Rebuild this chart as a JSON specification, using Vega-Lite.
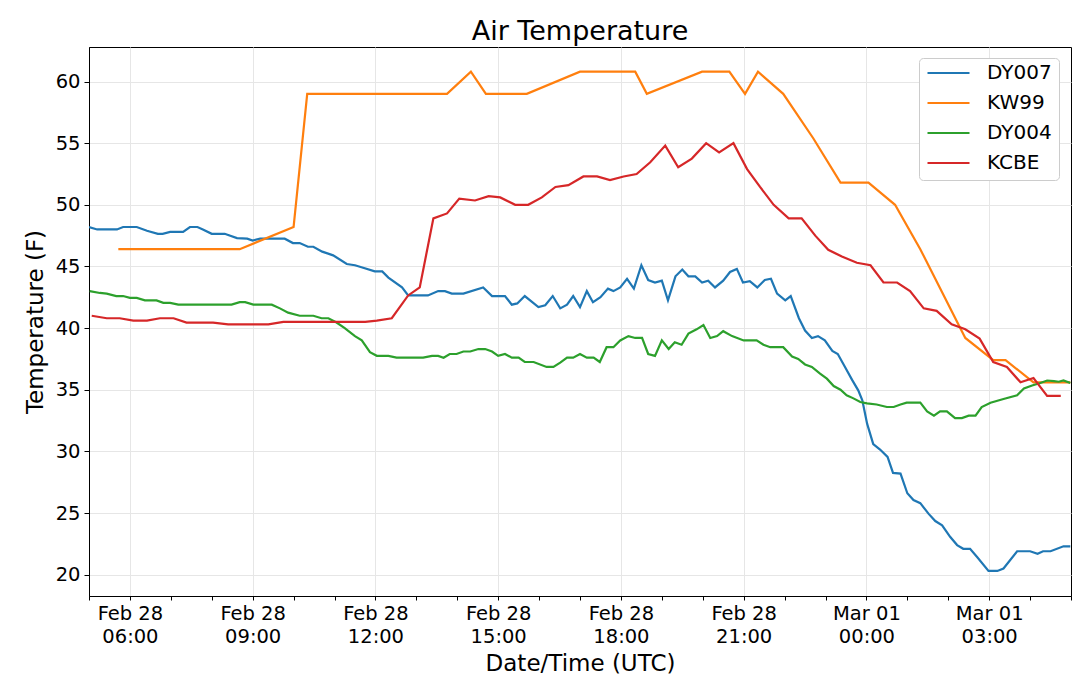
{
  "$schema": "https://vega.github.io/schema/vega-lite/v6.json",
  "width": 982,
  "height": 549,
  "autosize": {"type": "none"},
  "padding": {"left": 89, "top": 47, "right": 9, "bottom": 93},
  "background": "white",
  "title": {
    "text": "Air Temperature",
    "fontSize": 27,
    "fontWeight": "normal",
    "color": "black",
    "anchor": "middle",
    "offset": 1
  },
  "data": {
    "values": [
      {"station": "DY007", "time": "2018-02-28T05:00:00Z", "temp": 48.2},
      {"station": "DY007", "time": "2018-02-28T05:12:00Z", "temp": 48.0},
      {"station": "DY007", "time": "2018-02-28T05:41:00Z", "temp": 48.0},
      {"station": "DY007", "time": "2018-02-28T05:50:00Z", "temp": 48.2},
      {"station": "DY007", "time": "2018-02-28T06:10:00Z", "temp": 48.2},
      {"station": "DY007", "time": "2018-02-28T06:25:00Z", "temp": 47.9},
      {"station": "DY007", "time": "2018-02-28T06:41:00Z", "temp": 47.65},
      {"station": "DY007", "time": "2018-02-28T06:48:00Z", "temp": 47.65},
      {"station": "DY007", "time": "2018-02-28T06:59:00Z", "temp": 47.8},
      {"station": "DY007", "time": "2018-02-28T07:18:00Z", "temp": 47.8},
      {"station": "DY007", "time": "2018-02-28T07:28:00Z", "temp": 48.2},
      {"station": "DY007", "time": "2018-02-28T07:39:00Z", "temp": 48.2},
      {"station": "DY007", "time": "2018-02-28T07:47:00Z", "temp": 48.0},
      {"station": "DY007", "time": "2018-02-28T08:00:00Z", "temp": 47.65},
      {"station": "DY007", "time": "2018-02-28T08:19:00Z", "temp": 47.65},
      {"station": "DY007", "time": "2018-02-28T08:37:00Z", "temp": 47.3},
      {"station": "DY007", "time": "2018-02-28T08:52:00Z", "temp": 47.25},
      {"station": "DY007", "time": "2018-02-28T09:00:00Z", "temp": 47.1},
      {"station": "DY007", "time": "2018-02-28T09:11:00Z", "temp": 47.25},
      {"station": "DY007", "time": "2018-02-28T09:47:00Z", "temp": 47.25},
      {"station": "DY007", "time": "2018-02-28T09:59:00Z", "temp": 46.9},
      {"station": "DY007", "time": "2018-02-28T10:09:00Z", "temp": 46.9},
      {"station": "DY007", "time": "2018-02-28T10:21:00Z", "temp": 46.6},
      {"station": "DY007", "time": "2018-02-28T10:29:00Z", "temp": 46.6},
      {"station": "DY007", "time": "2018-02-28T10:42:00Z", "temp": 46.2},
      {"station": "DY007", "time": "2018-02-28T10:58:00Z", "temp": 45.9},
      {"station": "DY007", "time": "2018-02-28T11:18:00Z", "temp": 45.2},
      {"station": "DY007", "time": "2018-02-28T11:30:00Z", "temp": 45.1},
      {"station": "DY007", "time": "2018-02-28T11:42:00Z", "temp": 44.9},
      {"station": "DY007", "time": "2018-02-28T11:59:00Z", "temp": 44.6},
      {"station": "DY007", "time": "2018-02-28T12:10:00Z", "temp": 44.6},
      {"station": "DY007", "time": "2018-02-28T12:19:00Z", "temp": 44.1},
      {"station": "DY007", "time": "2018-02-28T12:39:00Z", "temp": 43.3},
      {"station": "DY007", "time": "2018-02-28T12:48:00Z", "temp": 42.65},
      {"station": "DY007", "time": "2018-02-28T13:17:00Z", "temp": 42.65},
      {"station": "DY007", "time": "2018-02-28T13:32:00Z", "temp": 43.0},
      {"station": "DY007", "time": "2018-02-28T13:42:00Z", "temp": 43.0},
      {"station": "DY007", "time": "2018-02-28T13:52:00Z", "temp": 42.8},
      {"station": "DY007", "time": "2018-02-28T14:09:00Z", "temp": 42.8},
      {"station": "DY007", "time": "2018-02-28T14:38:00Z", "temp": 43.3},
      {"station": "DY007", "time": "2018-02-28T14:51:00Z", "temp": 42.6},
      {"station": "DY007", "time": "2018-02-28T15:10:00Z", "temp": 42.6},
      {"station": "DY007", "time": "2018-02-28T15:20:00Z", "temp": 41.9},
      {"station": "DY007", "time": "2018-02-28T15:28:00Z", "temp": 42.0},
      {"station": "DY007", "time": "2018-02-28T15:39:00Z", "temp": 42.6},
      {"station": "DY007", "time": "2018-02-28T15:59:00Z", "temp": 41.7},
      {"station": "DY007", "time": "2018-02-28T16:09:00Z", "temp": 41.85},
      {"station": "DY007", "time": "2018-02-28T16:20:00Z", "temp": 42.6},
      {"station": "DY007", "time": "2018-02-28T16:31:00Z", "temp": 41.6},
      {"station": "DY007", "time": "2018-02-28T16:41:00Z", "temp": 41.9},
      {"station": "DY007", "time": "2018-02-28T16:50:00Z", "temp": 42.6},
      {"station": "DY007", "time": "2018-02-28T17:00:00Z", "temp": 41.7},
      {"station": "DY007", "time": "2018-02-28T17:10:00Z", "temp": 43.0},
      {"station": "DY007", "time": "2018-02-28T17:19:00Z", "temp": 42.1},
      {"station": "DY007", "time": "2018-02-28T17:30:00Z", "temp": 42.5},
      {"station": "DY007", "time": "2018-02-28T17:41:00Z", "temp": 43.2},
      {"station": "DY007", "time": "2018-02-28T17:49:00Z", "temp": 43.0},
      {"station": "DY007", "time": "2018-02-28T17:59:00Z", "temp": 43.3},
      {"station": "DY007", "time": "2018-02-28T18:09:00Z", "temp": 44.0},
      {"station": "DY007", "time": "2018-02-28T18:19:00Z", "temp": 43.2},
      {"station": "DY007", "time": "2018-02-28T18:30:00Z", "temp": 45.1},
      {"station": "DY007", "time": "2018-02-28T18:40:00Z", "temp": 43.9},
      {"station": "DY007", "time": "2018-02-28T18:50:00Z", "temp": 43.7},
      {"station": "DY007", "time": "2018-02-28T19:00:00Z", "temp": 43.85},
      {"station": "DY007", "time": "2018-02-28T19:09:00Z", "temp": 42.25},
      {"station": "DY007", "time": "2018-02-28T19:20:00Z", "temp": 44.2},
      {"station": "DY007", "time": "2018-02-28T19:30:00Z", "temp": 44.75},
      {"station": "DY007", "time": "2018-02-28T19:39:00Z", "temp": 44.2},
      {"station": "DY007", "time": "2018-02-28T19:49:00Z", "temp": 44.2},
      {"station": "DY007", "time": "2018-02-28T19:59:00Z", "temp": 43.7},
      {"station": "DY007", "time": "2018-02-28T20:08:00Z", "temp": 43.85},
      {"station": "DY007", "time": "2018-02-28T20:18:00Z", "temp": 43.3},
      {"station": "DY007", "time": "2018-02-28T20:30:00Z", "temp": 43.85},
      {"station": "DY007", "time": "2018-02-28T20:40:00Z", "temp": 44.55},
      {"station": "DY007", "time": "2018-02-28T20:50:00Z", "temp": 44.8},
      {"station": "DY007", "time": "2018-02-28T20:59:00Z", "temp": 43.7},
      {"station": "DY007", "time": "2018-02-28T21:09:00Z", "temp": 43.8},
      {"station": "DY007", "time": "2018-02-28T21:20:00Z", "temp": 43.3},
      {"station": "DY007", "time": "2018-02-28T21:31:00Z", "temp": 43.9},
      {"station": "DY007", "time": "2018-02-28T21:40:00Z", "temp": 44.0},
      {"station": "DY007", "time": "2018-02-28T21:49:00Z", "temp": 42.8},
      {"station": "DY007", "time": "2018-02-28T22:01:00Z", "temp": 42.25},
      {"station": "DY007", "time": "2018-02-28T22:09:00Z", "temp": 42.6},
      {"station": "DY007", "time": "2018-02-28T22:21:00Z", "temp": 40.8},
      {"station": "DY007", "time": "2018-02-28T22:30:00Z", "temp": 39.8},
      {"station": "DY007", "time": "2018-02-28T22:40:00Z", "temp": 39.2},
      {"station": "DY007", "time": "2018-02-28T22:49:00Z", "temp": 39.35},
      {"station": "DY007", "time": "2018-02-28T22:59:00Z", "temp": 39.0},
      {"station": "DY007", "time": "2018-02-28T23:10:00Z", "temp": 38.15},
      {"station": "DY007", "time": "2018-02-28T23:18:00Z", "temp": 37.9},
      {"station": "DY007", "time": "2018-02-28T23:29:00Z", "temp": 36.8},
      {"station": "DY007", "time": "2018-02-28T23:39:00Z", "temp": 35.8},
      {"station": "DY007", "time": "2018-02-28T23:48:00Z", "temp": 34.95},
      {"station": "DY007", "time": "2018-02-28T23:54:00Z", "temp": 34.15},
      {"station": "DY007", "time": "2018-03-01T00:01:00Z", "temp": 32.25},
      {"station": "DY007", "time": "2018-03-01T00:10:00Z", "temp": 30.6},
      {"station": "DY007", "time": "2018-03-01T00:20:00Z", "temp": 30.15},
      {"station": "DY007", "time": "2018-03-01T00:31:00Z", "temp": 29.55},
      {"station": "DY007", "time": "2018-03-01T00:39:00Z", "temp": 28.25},
      {"station": "DY007", "time": "2018-03-01T00:50:00Z", "temp": 28.2},
      {"station": "DY007", "time": "2018-03-01T01:00:00Z", "temp": 26.6},
      {"station": "DY007", "time": "2018-03-01T01:09:00Z", "temp": 26.05},
      {"station": "DY007", "time": "2018-03-01T01:19:00Z", "temp": 25.8},
      {"station": "DY007", "time": "2018-03-01T01:31:00Z", "temp": 24.95},
      {"station": "DY007", "time": "2018-03-01T01:41:00Z", "temp": 24.35},
      {"station": "DY007", "time": "2018-03-01T01:51:00Z", "temp": 24.0},
      {"station": "DY007", "time": "2018-03-01T02:03:00Z", "temp": 23.05},
      {"station": "DY007", "time": "2018-03-01T02:13:00Z", "temp": 22.4},
      {"station": "DY007", "time": "2018-03-01T02:22:00Z", "temp": 22.1},
      {"station": "DY007", "time": "2018-03-01T02:32:00Z", "temp": 22.1},
      {"station": "DY007", "time": "2018-03-01T02:42:00Z", "temp": 21.45},
      {"station": "DY007", "time": "2018-03-01T02:59:00Z", "temp": 20.3},
      {"station": "DY007", "time": "2018-03-01T03:12:00Z", "temp": 20.3},
      {"station": "DY007", "time": "2018-03-01T03:21:00Z", "temp": 20.5},
      {"station": "DY007", "time": "2018-03-01T03:41:00Z", "temp": 21.9},
      {"station": "DY007", "time": "2018-03-01T04:00:00Z", "temp": 21.9},
      {"station": "DY007", "time": "2018-03-01T04:11:00Z", "temp": 21.7},
      {"station": "DY007", "time": "2018-03-01T04:19:00Z", "temp": 21.9},
      {"station": "DY007", "time": "2018-03-01T04:30:00Z", "temp": 21.9},
      {"station": "DY007", "time": "2018-03-01T04:49:00Z", "temp": 22.3},
      {"station": "DY007", "time": "2018-03-01T04:59:00Z", "temp": 22.3},

      {"station": "KW99", "time": "2018-02-28T05:43:00Z", "temp": 46.4},
      {"station": "KW99", "time": "2018-02-28T08:41:00Z", "temp": 46.4},
      {"station": "KW99", "time": "2018-02-28T10:00:00Z", "temp": 48.2},
      {"station": "KW99", "time": "2018-02-28T10:20:00Z", "temp": 59.0},
      {"station": "KW99", "time": "2018-02-28T13:45:00Z", "temp": 59.0},
      {"station": "KW99", "time": "2018-02-28T14:20:00Z", "temp": 60.8},
      {"station": "KW99", "time": "2018-02-28T14:42:00Z", "temp": 59.0},
      {"station": "KW99", "time": "2018-02-28T15:42:00Z", "temp": 59.0},
      {"station": "KW99", "time": "2018-02-28T17:00:00Z", "temp": 60.8},
      {"station": "KW99", "time": "2018-02-28T18:21:00Z", "temp": 60.8},
      {"station": "KW99", "time": "2018-02-28T18:38:00Z", "temp": 59.0},
      {"station": "KW99", "time": "2018-02-28T19:59:00Z", "temp": 60.8},
      {"station": "KW99", "time": "2018-02-28T20:39:00Z", "temp": 60.8},
      {"station": "KW99", "time": "2018-02-28T21:02:00Z", "temp": 59.0},
      {"station": "KW99", "time": "2018-02-28T21:21:00Z", "temp": 60.8},
      {"station": "KW99", "time": "2018-02-28T21:58:00Z", "temp": 59.0},
      {"station": "KW99", "time": "2018-02-28T22:42:00Z", "temp": 55.4},
      {"station": "KW99", "time": "2018-02-28T23:22:00Z", "temp": 51.8},
      {"station": "KW99", "time": "2018-03-01T00:03:00Z", "temp": 51.8},
      {"station": "KW99", "time": "2018-03-01T00:42:00Z", "temp": 50.0},
      {"station": "KW99", "time": "2018-03-01T01:19:00Z", "temp": 46.4},
      {"station": "KW99", "time": "2018-03-01T02:25:00Z", "temp": 39.2},
      {"station": "KW99", "time": "2018-03-01T03:06:00Z", "temp": 37.4},
      {"station": "KW99", "time": "2018-03-01T03:24:00Z", "temp": 37.4},
      {"station": "KW99", "time": "2018-03-01T04:05:00Z", "temp": 35.6},
      {"station": "KW99", "time": "2018-03-01T04:59:00Z", "temp": 35.6},

      {"station": "DY004", "time": "2018-02-28T05:01:00Z", "temp": 43.0},
      {"station": "DY004", "time": "2018-02-28T05:16:00Z", "temp": 42.85},
      {"station": "DY004", "time": "2018-02-28T05:26:00Z", "temp": 42.8},
      {"station": "DY004", "time": "2018-02-28T05:40:00Z", "temp": 42.6},
      {"station": "DY004", "time": "2018-02-28T05:50:00Z", "temp": 42.6},
      {"station": "DY004", "time": "2018-02-28T06:00:00Z", "temp": 42.45},
      {"station": "DY004", "time": "2018-02-28T06:10:00Z", "temp": 42.45},
      {"station": "DY004", "time": "2018-02-28T06:22:00Z", "temp": 42.25},
      {"station": "DY004", "time": "2018-02-28T06:39:00Z", "temp": 42.25},
      {"station": "DY004", "time": "2018-02-28T06:49:00Z", "temp": 42.05},
      {"station": "DY004", "time": "2018-02-28T06:59:00Z", "temp": 42.05},
      {"station": "DY004", "time": "2018-02-28T07:11:00Z", "temp": 41.9},
      {"station": "DY004", "time": "2018-02-28T08:29:00Z", "temp": 41.9},
      {"station": "DY004", "time": "2018-02-28T08:41:00Z", "temp": 42.1},
      {"station": "DY004", "time": "2018-02-28T08:49:00Z", "temp": 42.1},
      {"station": "DY004", "time": "2018-02-28T09:01:00Z", "temp": 41.9},
      {"station": "DY004", "time": "2018-02-28T09:28:00Z", "temp": 41.9},
      {"station": "DY004", "time": "2018-02-28T09:40:00Z", "temp": 41.6},
      {"station": "DY004", "time": "2018-02-28T09:52:00Z", "temp": 41.25},
      {"station": "DY004", "time": "2018-02-28T10:09:00Z", "temp": 41.0},
      {"station": "DY004", "time": "2018-02-28T10:29:00Z", "temp": 41.0},
      {"station": "DY004", "time": "2018-02-28T10:41:00Z", "temp": 40.8},
      {"station": "DY004", "time": "2018-02-28T10:51:00Z", "temp": 40.8},
      {"station": "DY004", "time": "2018-02-28T11:03:00Z", "temp": 40.45},
      {"station": "DY004", "time": "2018-02-28T11:15:00Z", "temp": 40.0},
      {"station": "DY004", "time": "2018-02-28T11:30:00Z", "temp": 39.35},
      {"station": "DY004", "time": "2018-02-28T11:40:00Z", "temp": 39.0},
      {"station": "DY004", "time": "2018-02-28T11:52:00Z", "temp": 38.05},
      {"station": "DY004", "time": "2018-02-28T12:02:00Z", "temp": 37.75},
      {"station": "DY004", "time": "2018-02-28T12:19:00Z", "temp": 37.75},
      {"station": "DY004", "time": "2018-02-28T12:31:00Z", "temp": 37.6},
      {"station": "DY004", "time": "2018-02-28T13:10:00Z", "temp": 37.6},
      {"station": "DY004", "time": "2018-02-28T13:23:00Z", "temp": 37.75},
      {"station": "DY004", "time": "2018-02-28T13:32:00Z", "temp": 37.75},
      {"station": "DY004", "time": "2018-02-28T13:40:00Z", "temp": 37.6},
      {"station": "DY004", "time": "2018-02-28T13:49:00Z", "temp": 37.9},
      {"station": "DY004", "time": "2018-02-28T13:59:00Z", "temp": 37.9},
      {"station": "DY004", "time": "2018-02-28T14:09:00Z", "temp": 38.1},
      {"station": "DY004", "time": "2018-02-28T14:19:00Z", "temp": 38.1},
      {"station": "DY004", "time": "2018-02-28T14:31:00Z", "temp": 38.3},
      {"station": "DY004", "time": "2018-02-28T14:41:00Z", "temp": 38.3},
      {"station": "DY004", "time": "2018-02-28T14:51:00Z", "temp": 38.1},
      {"station": "DY004", "time": "2018-02-28T15:00:00Z", "temp": 37.75},
      {"station": "DY004", "time": "2018-02-28T15:10:00Z", "temp": 37.9},
      {"station": "DY004", "time": "2018-02-28T15:20:00Z", "temp": 37.6},
      {"station": "DY004", "time": "2018-02-28T15:30:00Z", "temp": 37.6},
      {"station": "DY004", "time": "2018-02-28T15:39:00Z", "temp": 37.25},
      {"station": "DY004", "time": "2018-02-28T15:52:00Z", "temp": 37.25},
      {"station": "DY004", "time": "2018-02-28T16:11:00Z", "temp": 36.85},
      {"station": "DY004", "time": "2018-02-28T16:21:00Z", "temp": 36.85},
      {"station": "DY004", "time": "2018-02-28T16:31:00Z", "temp": 37.2},
      {"station": "DY004", "time": "2018-02-28T16:41:00Z", "temp": 37.6},
      {"station": "DY004", "time": "2018-02-28T16:50:00Z", "temp": 37.6},
      {"station": "DY004", "time": "2018-02-28T17:00:00Z", "temp": 37.9},
      {"station": "DY004", "time": "2018-02-28T17:10:00Z", "temp": 37.6},
      {"station": "DY004", "time": "2018-02-28T17:20:00Z", "temp": 37.6},
      {"station": "DY004", "time": "2018-02-28T17:29:00Z", "temp": 37.25},
      {"station": "DY004", "time": "2018-02-28T17:39:00Z", "temp": 38.45},
      {"station": "DY004", "time": "2018-02-28T17:49:00Z", "temp": 38.45},
      {"station": "DY004", "time": "2018-02-28T17:59:00Z", "temp": 39.0},
      {"station": "DY004", "time": "2018-02-28T18:11:00Z", "temp": 39.35},
      {"station": "DY004", "time": "2018-02-28T18:21:00Z", "temp": 39.2},
      {"station": "DY004", "time": "2018-02-28T18:31:00Z", "temp": 39.2},
      {"station": "DY004", "time": "2018-02-28T18:40:00Z", "temp": 37.9},
      {"station": "DY004", "time": "2018-02-28T18:50:00Z", "temp": 37.75},
      {"station": "DY004", "time": "2018-02-28T19:00:00Z", "temp": 39.0},
      {"station": "DY004", "time": "2018-02-28T19:10:00Z", "temp": 38.3},
      {"station": "DY004", "time": "2018-02-28T19:19:00Z", "temp": 38.85},
      {"station": "DY004", "time": "2018-02-28T19:29:00Z", "temp": 38.65},
      {"station": "DY004", "time": "2018-02-28T19:39:00Z", "temp": 39.55},
      {"station": "DY004", "time": "2018-02-28T19:51:00Z", "temp": 39.9},
      {"station": "DY004", "time": "2018-02-28T20:01:00Z", "temp": 40.25},
      {"station": "DY004", "time": "2018-02-28T20:11:00Z", "temp": 39.2},
      {"station": "DY004", "time": "2018-02-28T20:21:00Z", "temp": 39.35},
      {"station": "DY004", "time": "2018-02-28T20:30:00Z", "temp": 39.75},
      {"station": "DY004", "time": "2018-02-28T20:43:00Z", "temp": 39.35},
      {"station": "DY004", "time": "2018-02-28T21:00:00Z", "temp": 39.0},
      {"station": "DY004", "time": "2018-02-28T21:19:00Z", "temp": 39.0},
      {"station": "DY004", "time": "2018-02-28T21:29:00Z", "temp": 38.65},
      {"station": "DY004", "time": "2018-02-28T21:39:00Z", "temp": 38.45},
      {"station": "DY004", "time": "2018-02-28T21:58:00Z", "temp": 38.45},
      {"station": "DY004", "time": "2018-02-28T22:11:00Z", "temp": 37.7},
      {"station": "DY004", "time": "2018-02-28T22:20:00Z", "temp": 37.5},
      {"station": "DY004", "time": "2018-02-28T22:30:00Z", "temp": 37.05},
      {"station": "DY004", "time": "2018-02-28T22:40:00Z", "temp": 36.85},
      {"station": "DY004", "time": "2018-02-28T22:52:00Z", "temp": 36.3},
      {"station": "DY004", "time": "2018-02-28T23:02:00Z", "temp": 35.9},
      {"station": "DY004", "time": "2018-02-28T23:12:00Z", "temp": 35.3},
      {"station": "DY004", "time": "2018-02-28T23:22:00Z", "temp": 35.0},
      {"station": "DY004", "time": "2018-02-28T23:31:00Z", "temp": 34.55},
      {"station": "DY004", "time": "2018-02-28T23:41:00Z", "temp": 34.3},
      {"station": "DY004", "time": "2018-02-28T23:51:00Z", "temp": 34.0},
      {"station": "DY004", "time": "2018-03-01T00:01:00Z", "temp": 33.9},
      {"station": "DY004", "time": "2018-03-01T00:15:00Z", "temp": 33.8},
      {"station": "DY004", "time": "2018-03-01T00:30:00Z", "temp": 33.6},
      {"station": "DY004", "time": "2018-03-01T00:40:00Z", "temp": 33.6},
      {"station": "DY004", "time": "2018-03-01T00:50:00Z", "temp": 33.8},
      {"station": "DY004", "time": "2018-03-01T00:59:00Z", "temp": 33.95},
      {"station": "DY004", "time": "2018-03-01T01:19:00Z", "temp": 33.95},
      {"station": "DY004", "time": "2018-03-01T01:29:00Z", "temp": 33.25},
      {"station": "DY004", "time": "2018-03-01T01:39:00Z", "temp": 32.9},
      {"station": "DY004", "time": "2018-03-01T01:48:00Z", "temp": 33.25},
      {"station": "DY004", "time": "2018-03-01T01:58:00Z", "temp": 33.25},
      {"station": "DY004", "time": "2018-03-01T02:10:00Z", "temp": 32.7},
      {"station": "DY004", "time": "2018-03-01T02:20:00Z", "temp": 32.7},
      {"station": "DY004", "time": "2018-03-01T02:30:00Z", "temp": 32.9},
      {"station": "DY004", "time": "2018-03-01T02:40:00Z", "temp": 32.9},
      {"station": "DY004", "time": "2018-03-01T02:49:00Z", "temp": 33.6},
      {"station": "DY004", "time": "2018-03-01T03:02:00Z", "temp": 33.95},
      {"station": "DY004", "time": "2018-03-01T03:21:00Z", "temp": 34.25},
      {"station": "DY004", "time": "2018-03-01T03:41:00Z", "temp": 34.55},
      {"station": "DY004", "time": "2018-03-01T03:51:00Z", "temp": 35.1},
      {"station": "DY004", "time": "2018-03-01T04:03:00Z", "temp": 35.35},
      {"station": "DY004", "time": "2018-03-01T04:15:00Z", "temp": 35.55},
      {"station": "DY004", "time": "2018-03-01T04:25:00Z", "temp": 35.75},
      {"station": "DY004", "time": "2018-03-01T04:35:00Z", "temp": 35.7},
      {"station": "DY004", "time": "2018-03-01T04:42:00Z", "temp": 35.65},
      {"station": "DY004", "time": "2018-03-01T04:49:00Z", "temp": 35.75},
      {"station": "DY004", "time": "2018-03-01T04:59:00Z", "temp": 35.55},

      {"station": "KCBE", "time": "2018-02-28T05:04:00Z", "temp": 41.0},
      {"station": "KCBE", "time": "2018-02-28T05:26:00Z", "temp": 40.8},
      {"station": "KCBE", "time": "2018-02-28T05:45:00Z", "temp": 40.8},
      {"station": "KCBE", "time": "2018-02-28T06:05:00Z", "temp": 40.6},
      {"station": "KCBE", "time": "2018-02-28T06:25:00Z", "temp": 40.6},
      {"station": "KCBE", "time": "2018-02-28T06:44:00Z", "temp": 40.8},
      {"station": "KCBE", "time": "2018-02-28T07:04:00Z", "temp": 40.8},
      {"station": "KCBE", "time": "2018-02-28T07:23:00Z", "temp": 40.45},
      {"station": "KCBE", "time": "2018-02-28T08:02:00Z", "temp": 40.45},
      {"station": "KCBE", "time": "2018-02-28T08:24:00Z", "temp": 40.3},
      {"station": "KCBE", "time": "2018-02-28T09:23:00Z", "temp": 40.3},
      {"station": "KCBE", "time": "2018-02-28T09:45:00Z", "temp": 40.5},
      {"station": "KCBE", "time": "2018-02-28T11:45:00Z", "temp": 40.5},
      {"station": "KCBE", "time": "2018-02-28T12:02:00Z", "temp": 40.6},
      {"station": "KCBE", "time": "2018-02-28T12:24:00Z", "temp": 40.8},
      {"station": "KCBE", "time": "2018-02-28T12:48:00Z", "temp": 42.65},
      {"station": "KCBE", "time": "2018-02-28T13:05:00Z", "temp": 43.3},
      {"station": "KCBE", "time": "2018-02-28T13:25:00Z", "temp": 48.9},
      {"station": "KCBE", "time": "2018-02-28T13:45:00Z", "temp": 49.3},
      {"station": "KCBE", "time": "2018-02-28T14:03:00Z", "temp": 50.5},
      {"station": "KCBE", "time": "2018-02-28T14:26:00Z", "temp": 50.35},
      {"station": "KCBE", "time": "2018-02-28T14:46:00Z", "temp": 50.7},
      {"station": "KCBE", "time": "2018-02-28T15:03:00Z", "temp": 50.6},
      {"station": "KCBE", "time": "2018-02-28T15:25:00Z", "temp": 50.0},
      {"station": "KCBE", "time": "2018-02-28T15:44:00Z", "temp": 50.0},
      {"station": "KCBE", "time": "2018-02-28T16:04:00Z", "temp": 50.6},
      {"station": "KCBE", "time": "2018-02-28T16:24:00Z", "temp": 51.45},
      {"station": "KCBE", "time": "2018-02-28T16:43:00Z", "temp": 51.6},
      {"station": "KCBE", "time": "2018-02-28T17:05:00Z", "temp": 52.3},
      {"station": "KCBE", "time": "2018-02-28T17:25:00Z", "temp": 52.3},
      {"station": "KCBE", "time": "2018-02-28T17:44:00Z", "temp": 52.0},
      {"station": "KCBE", "time": "2018-02-28T18:04:00Z", "temp": 52.3},
      {"station": "KCBE", "time": "2018-02-28T18:23:00Z", "temp": 52.5},
      {"station": "KCBE", "time": "2018-02-28T18:43:00Z", "temp": 53.45},
      {"station": "KCBE", "time": "2018-02-28T19:05:00Z", "temp": 54.8},
      {"station": "KCBE", "time": "2018-02-28T19:24:00Z", "temp": 53.05},
      {"station": "KCBE", "time": "2018-02-28T19:44:00Z", "temp": 53.75},
      {"station": "KCBE", "time": "2018-02-28T20:05:00Z", "temp": 55.0},
      {"station": "KCBE", "time": "2018-02-28T20:24:00Z", "temp": 54.25},
      {"station": "KCBE", "time": "2018-02-28T20:45:00Z", "temp": 55.0},
      {"station": "KCBE", "time": "2018-02-28T21:05:00Z", "temp": 52.9},
      {"station": "KCBE", "time": "2018-02-28T21:24:00Z", "temp": 51.45},
      {"station": "KCBE", "time": "2018-02-28T21:44:00Z", "temp": 50.0},
      {"station": "KCBE", "time": "2018-02-28T22:06:00Z", "temp": 48.9},
      {"station": "KCBE", "time": "2018-02-28T22:25:00Z", "temp": 48.9},
      {"station": "KCBE", "time": "2018-02-28T22:45:00Z", "temp": 47.5},
      {"station": "KCBE", "time": "2018-02-28T23:04:00Z", "temp": 46.35},
      {"station": "KCBE", "time": "2018-02-28T23:24:00Z", "temp": 45.8},
      {"station": "KCBE", "time": "2018-02-28T23:46:00Z", "temp": 45.3},
      {"station": "KCBE", "time": "2018-03-01T00:06:00Z", "temp": 45.1},
      {"station": "KCBE", "time": "2018-03-01T00:25:00Z", "temp": 43.7},
      {"station": "KCBE", "time": "2018-03-01T00:45:00Z", "temp": 43.7},
      {"station": "KCBE", "time": "2018-03-01T01:04:00Z", "temp": 43.0},
      {"station": "KCBE", "time": "2018-03-01T01:24:00Z", "temp": 41.6},
      {"station": "KCBE", "time": "2018-03-01T01:43:00Z", "temp": 41.4},
      {"station": "KCBE", "time": "2018-03-01T02:05:00Z", "temp": 40.3},
      {"station": "KCBE", "time": "2018-03-01T02:25:00Z", "temp": 39.9},
      {"station": "KCBE", "time": "2018-03-01T02:46:00Z", "temp": 39.15},
      {"station": "KCBE", "time": "2018-03-01T03:06:00Z", "temp": 37.25},
      {"station": "KCBE", "time": "2018-03-01T03:26:00Z", "temp": 36.85},
      {"station": "KCBE", "time": "2018-03-01T03:46:00Z", "temp": 35.6},
      {"station": "KCBE", "time": "2018-03-01T04:05:00Z", "temp": 35.95},
      {"station": "KCBE", "time": "2018-03-01T04:25:00Z", "temp": 34.5},
      {"station": "KCBE", "time": "2018-03-01T04:45:00Z", "temp": 34.5}
    ]
  },
  "mark": {"type": "line", "strokeWidth": 2.2, "clip": true},
  "encoding": {
    "x": {
      "field": "time",
      "type": "temporal",
      "scale": {
        "type": "utc",
        "nice": false,
        "domain": [1519794000000, 1519880400000]
      },
      "axis": {
        "title": "Date/Time (UTC)",
        "values": [1519794000000, 1519797600000, 1519801200000, 1519804800000, 1519808400000, 1519812000000, 1519815600000, 1519819200000, 1519822800000, 1519826400000, 1519830000000, 1519833600000, 1519837200000, 1519840800000, 1519844400000, 1519848000000, 1519851600000, 1519855200000, 1519858800000, 1519862400000, 1519866000000, 1519869600000, 1519873200000, 1519876800000, 1519880400000],
        "labelExpr": "utchours(datum.value) % 3 == 0 ? [utcFormat(datum.value, '%b %d'), utcFormat(datum.value, '%H:%M')] : ''",
        "labelOverlap": false,
        "labelFlush": false,
        "labelLineHeight": 23.5,
        "labelPadding": 4,
        "tickSize": 4,
        "gridOpacity": {"condition": {"test": "utchours(datum.value) % 3 == 0", "value": 1}, "value": 0},
        "titlePadding": 6
      }
    },
    "y": {
      "field": "temp",
      "type": "quantitative",
      "scale": {"domain": [18.27, 62.8], "nice": false, "zero": false},
      "axis": {
        "title": "Temperature (F)",
        "values": [20, 25, 30, 35, 40, 45, 50, 55, 60],
        "tickSize": 5,
        "labelPadding": 4,
        "titlePadding": 8
      }
    },
    "color": {
      "field": "station",
      "type": "nominal",
      "scale": {
        "domain": ["DY007", "KW99", "DY004", "KCBE"],
        "range": ["#1f77b4", "#ff7f0e", "#2ca02c", "#d62728"]
      },
      "legend": {
        "title": null,
        "orient": "none",
        "legendX": 830,
        "legendY": 11,
        "symbolType": "stroke",
        "symbolSize": 1764,
        "symbolStrokeWidth": 2.2,
        "clipHeight": 16,
        "rowPadding": 10,
        "labelOffset": 16,
        "labelFontSize": 20,
        "labelColor": "black",
        "padding": 7,
        "strokeColor": "#cccccc",
        "fillColor": "white",
        "cornerRadius": 4
      }
    }
  },
  "config": {
    "font": "DejaVu Sans",
    "view": {"stroke": "black", "strokeWidth": 1},
    "axis": {
      "labelFontSize": 19.5,
      "labelColor": "black",
      "titleFontSize": 23,
      "titleFontWeight": "normal",
      "titleColor": "black",
      "domainColor": "black",
      "tickColor": "black",
      "gridColor": "#e6e6e6",
      "grid": true
    }
  }
}
